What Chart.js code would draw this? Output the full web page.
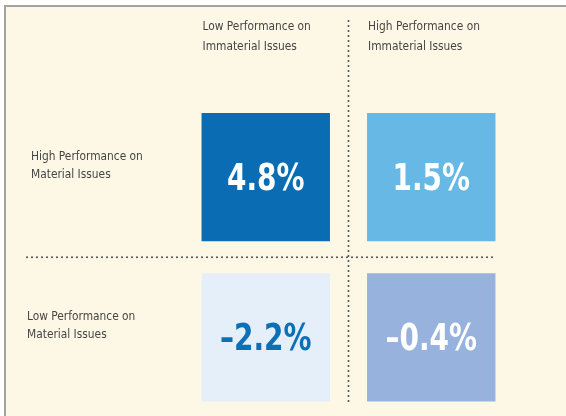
<!DOCTYPE html>
<html>
<head>
<meta charset="utf-8">
<script src="https://cdn.jsdelivr.net/npm/chart.js@4.4.1/dist/chart.umd.min.js"></script>
<style>
  html, body { margin: 0; padding: 0; background: #fff; }
  body { width: 566px; height: 416px; position: relative; overflow: hidden; }
  .panel {
    position: absolute; left: 4px; top: 5px; right: 0; bottom: 0;
    background: #fdf8e6;
    border-top: 2px solid #a3a3a3;
    border-left: 2px solid #a3a3a3;
  }
  .wrap { position: absolute; left: 0; top: 0; width: 566px; height: 416px; }
</style>
</head>
<body>
<div class="panel"></div>
<div class="wrap"><canvas id="grid"></canvas></div>
<script>
// columns (left to right) and rows (top to bottom)
const columnLabels = [
  ["Low Performance on", "Immaterial Issues"],
  ["High Performance on", "Immaterial Issues"]
];
const rowLabels = [
  ["High Performance on", "Material Issues"],
  ["Low Performance on", "Material Issues"]
];
// return differences per cell, one array per row
const highMaterialValues = [4.8, 1.5];
const lowMaterialValues = [-2.2, -0.4];
const rowValues = [highMaterialValues, lowMaterialValues];

const cellColors = [
  ["#0a6db4", "#68b8e5"],
  ["#e4eff9", "#97b2dd"]
];
const valueColors = [
  ["#ffffff", "#ffffff"],
  ["#0d6fb6", "#ffffff"]
];

const labelFont = '13px "Liberation Sans Narrow", "DejaVu Sans Condensed", sans-serif';
const valueFont = 'bold 37px "Liberation Sans Narrow", "DejaVu Sans Condensed", sans-serif';

function fmt(v) {
  return (v < 0 ? "\u2013" : "") + Math.abs(v).toFixed(1) + "%";
}

// row r sits between r-index units counted from the bottom
function rowCenter(r) {
  return rowLabels.length - 1 - r + 0.5;
}

// narrow text: squeeze horizontally around the anchor
function narrowText(ctx, text, x, y, sx) {
  ctx.save();
  ctx.translate(x, y);
  ctx.scale(sx, 1);
  ctx.fillText(text, 0, 0);
  ctx.restore();
}

const datasets = rowValues.map((vals, r) => ({
  label: rowLabels[r].join(" "),
  data: vals.map(() => [rowCenter(r) - 0.4, rowCenter(r) + 0.4]),
  values: vals,
  backgroundColor: cellColors[r],
  textColors: valueColors[r],
  borderWidth: 0,
  barPercentage: 0.776,
  categoryPercentage: 1.0
}));

const quadrantPlugin = {
  id: "quadrant",
  beforeDatasetsDraw(chart) {
    const ctx = chart.ctx;
    const x = chart.scales.x, y = chart.scales.y;
    const midX = (x.getPixelForValue(0) + x.getPixelForValue(1)) / 2;
    const midY = y.getPixelForValue(1);
    const meta = chart.getDatasetMeta(0);
    const rightEdge = meta.data[1].x + meta.data[1].width / 2;
    ctx.save();
    ctx.strokeStyle = "#4a4a4a";
    ctx.lineWidth = 2;
    ctx.lineCap = "round";
    ctx.setLineDash([0, 5]);
    ctx.beginPath();
    ctx.moveTo(midX, chart.chartArea.top - 4);
    ctx.lineTo(midX, y.getPixelForValue(0.1) + 2);
    ctx.stroke();
    ctx.beginPath();
    ctx.moveTo(27, midY);
    ctx.lineTo(rightEdge, midY);
    ctx.stroke();
    ctx.restore();
  },
  afterDatasetsDraw(chart) {
    const ctx = chart.ctx;
    const y = chart.scales.y;
    ctx.save();
    // value labels
    ctx.font = valueFont;
    ctx.textAlign = "center";
    ctx.textBaseline = "middle";
    chart.data.datasets.forEach((ds, r) => {
      chart.getDatasetMeta(r).data.forEach((bar, c) => {
        ctx.fillStyle = ds.textColors[c];
        narrowText(ctx, fmt(ds.values[c]), bar.x, (bar.y + bar.base) / 2 + 3, 0.84);
      });
    });
    // column headers
    ctx.font = labelFont;
    ctx.fillStyle = "#444";
    ctx.textAlign = "left";
    const meta = chart.getDatasetMeta(0);
    columnLabels.forEach((lines, c) => {
      const left = meta.data[c].x - meta.data[c].width / 2 + 1;
      lines.forEach((t, i) => narrowText(ctx, t, left, 27 + i * 20, 0.91));
    });
    // row headers
    const rowX = [31, 27];
    rowLabels.forEach((lines, r) => {
      const cy = y.getPixelForValue(rowCenter(r)) - 12;
      lines.forEach((t, i) => narrowText(ctx, t, rowX[r], cy - 9 + i * 18, 0.91));
    });
    ctx.restore();
  }
};

new Chart(document.getElementById("grid"), {
  type: "bar",
  data: { labels: columnLabels.map(l => l.join(" ")), datasets: datasets },
  options: {
    responsive: true,
    maintainAspectRatio: false,
    animation: false,
    layout: { padding: { left: 183, right: 52, top: 25, bottom: 6.5 } },
    plugins: { legend: { display: false }, tooltip: { enabled: false } },
    scales: {
      x: { type: "category", stacked: true, display: false, offset: true },
      y: { type: "linear", stacked: false, display: false, min: 0.05, max: 2.45 }
    }
  },
  plugins: [quadrantPlugin]
});
</script>
</body>
</html>
